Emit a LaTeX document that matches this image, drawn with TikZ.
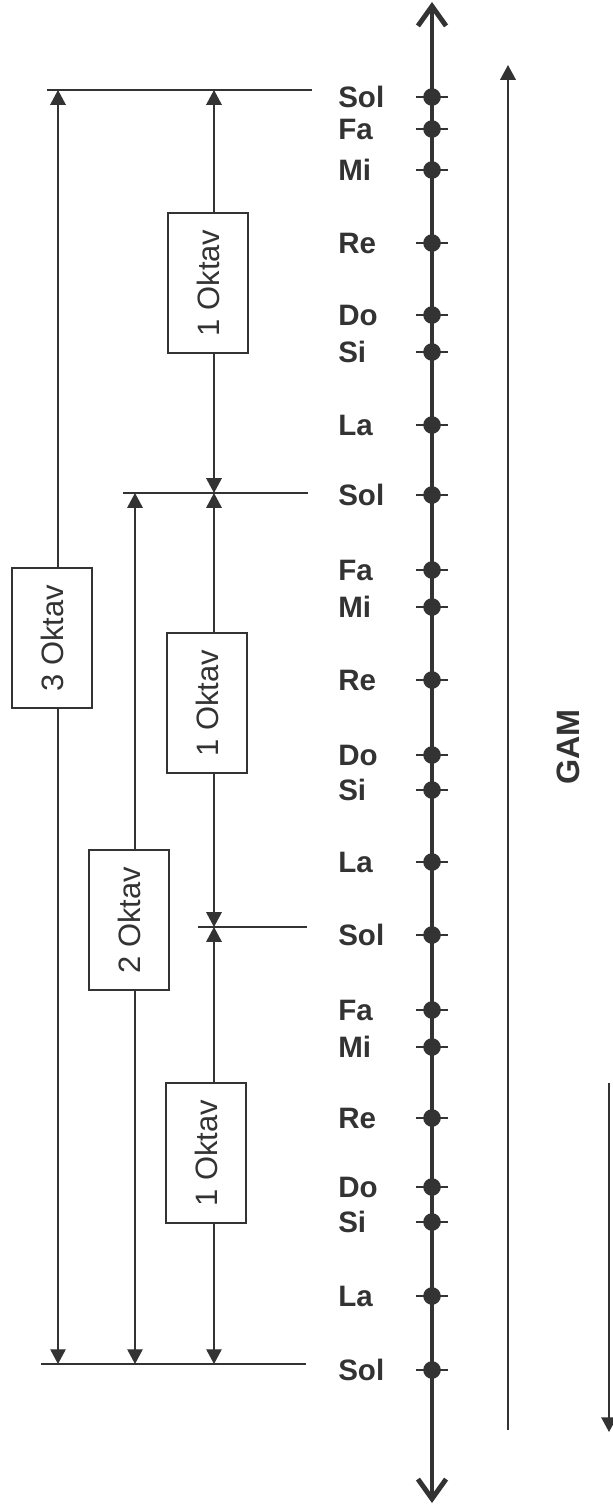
\documentclass[tikz,border=0pt]{standalone}
\usepackage{fontspec}
\setmainfont{Liberation Sans}
\usetikzlibrary{arrows.meta}
\definecolor{ink}{HTML}{333333}

\begin{document}
\begin{tikzpicture}[x=0.025cm, y=-0.025cm,
    note/.style={anchor=west, inner sep=0pt, text=ink, font=\fontsize{21}{25}\selectfont\bfseries},
    dot/.style={circle, fill=ink, inner sep=0pt, minimum size=0.44cm},
    tick/.style={ink, line width=1.4pt},
    okbox/.style={draw=ink, line width=0.8pt, fill=white, inner sep=0pt,
        minimum width=2cm, minimum height=3.5cm, text=ink, font=\fontsize{22}{26}\selectfont},
    dim/.style={ink, line width=0.9pt, -{Triangle[length=10.5pt, width=11pt]}},
    bar/.style={ink, line width=1.8pt},
    axis/.style={ink, line width=3.5pt,
        {Straight Barb[length=14pt, width=20pt]}-{Straight Barb[length=14pt, width=20pt]}},
    gamarrow/.style={ink, line width=1.2pt, -{Triangle[length=10.5pt, width=11pt]}}]
    \useasboundingbox (0,0) rectangle (612,1505);

    % axis
    \coordinate (atop) at (432,2);
    \coordinate (abot) at (432,1503);
    \draw[axis] (abot) -- (atop);

    % notes
    \foreach \y/\n [count=\i] in {97/Sol, 129/Fa, 170/Mi, 243/Re, 315/Do, 352/Si, 425/La,
            495/Sol, 570/Fa, 607/Mi, 680/Re, 755/Do, 790/Si, 862/La,
            935/Sol, 1010/Fa, 1047/Mi, 1118/Re, 1187/Do, 1222/Si, 1296/La, 1370/Sol} {
        \node[dot] (d\i) at (432,\y) {};
        \draw[tick] ([xshift=-0.4cm]d\i.center) -- ([xshift=0.4cm]d\i.center);
        \node[note] (n\i) at (338,\y) {\n};
    }

    % bars
    \coordinate (h1l) at (47,90);    \coordinate (h1r) at (312,90);
    \coordinate (h2l) at (123,493);  \coordinate (h2r) at (308,493);
    \coordinate (h3l) at (198,927);  \coordinate (h3r) at (307,927);
    \coordinate (h4l) at (41,1364);  \coordinate (h4r) at (306,1364);
    \draw[bar] (h1l) -- (h1r);
    \draw[bar] (h2l) -- (h2r);
    \draw[bar] (h3l) -- (h3r);
    \draw[bar] (h4l) -- (h4r);

    % octave boxes
    \node[okbox] (ok3)  at (52,638)   {\rotatebox{90}{3 Oktav}};
    \node[okbox] (ok2)  at (129,920)  {\rotatebox{90}{2 Oktav}};
    \node[okbox] (ok1a) at (208,283)  {\rotatebox{90}{1 Oktav}};
    \node[okbox] (ok1b) at (207,703)  {\rotatebox{90}{1 Oktav}};
    \node[okbox] (ok1c) at (206,1153) {\rotatebox{90}{1 Oktav}};

    % dimension lines
    \coordinate (o3t) at (58,90);    \coordinate (o3b) at (58,1364);
    \coordinate (o2t) at (135,493);  \coordinate (o2b) at (135,1364);
    \coordinate (o1a) at (214,90);   \coordinate (o1b) at (214,493);
    \coordinate (o1c) at (214,927);  \coordinate (o1d) at (214,1364);
    \draw[dim] (o3t |- ok3.north) -- (o3t);
    \draw[dim] (o3b |- ok3.south) -- (o3b);
    \draw[dim] (o2t |- ok2.north) -- (o2t);
    \draw[dim] (o2b |- ok2.south) -- (o2b);
    \draw[dim] (o1a |- ok1a.north) -- (o1a);
    \draw[dim] (o1b |- ok1a.south) -- (o1b);
    \draw[dim] (o1b |- ok1b.north) -- (o1b);
    \draw[dim] (o1c |- ok1b.south) -- (o1c);
    \draw[dim] (o1c |- ok1c.north) -- (o1c);
    \draw[dim] (o1d |- ok1c.south) -- (o1d);

    % GAM
    \node[rotate=90, text=ink, font=\fontsize{23}{27}\selectfont\bfseries] (gam) at (568,747) {GAM};
    \coordinate (g1b) at (508,1430);  \coordinate (g1t) at (508,65);
    \coordinate (g2t) at (609,1083);  \coordinate (g2b) at (609,1432);
    \draw[gamarrow] (g1b) -- (g1t);
    \draw[gamarrow] (g2t) -- (g2b);
\end{tikzpicture}
\end{document}
